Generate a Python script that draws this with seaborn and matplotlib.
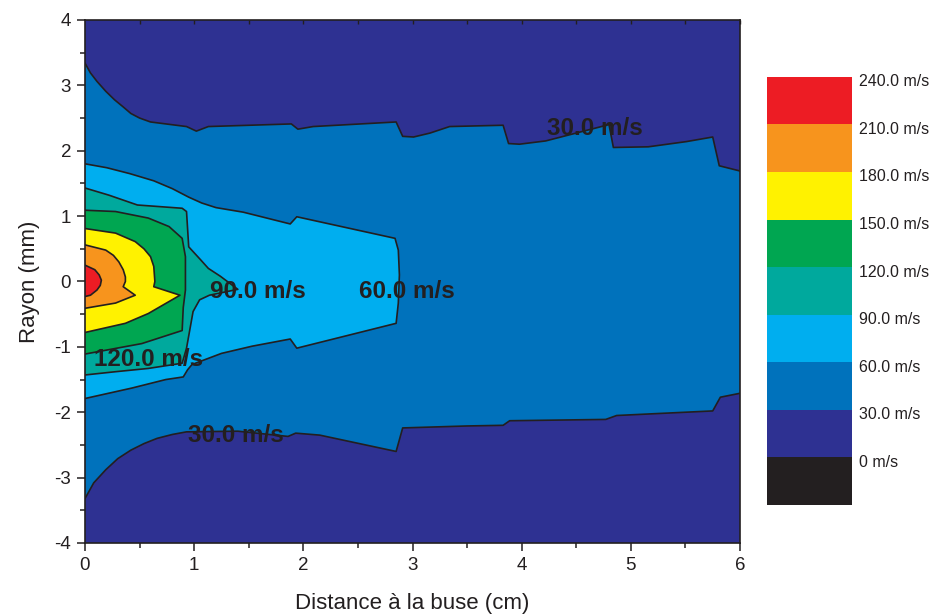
import numpy as np
import matplotlib
matplotlib.use("Agg")
import matplotlib.pyplot as plt
from matplotlib.colors import ListedColormap
import seaborn as sns

# ---------------- data ----------------
levels = [0, 30, 60, 90, 120, 150, 180, 210, 240]
level_labels = ["240.0 m/s", "210.0 m/s", "180.0 m/s", "150.0 m/s", "120.0 m/s",
                "90.0 m/s", "60.0 m/s", "30.0 m/s", "0 m/s"]
band_colors = ["#231f20", "#2e3192", "#0072bc", "#00aeef", "#00a99d",
               "#00a651", "#fff200", "#f7941d", "#ed1c24"]  # 0-30 ... 240+

# 30 m/s iso-line (upper and lower branches, x in cm, r in mm)
c30_up_x = [0, 0.05, 0.11, 0.19, 0.27, 0.35, 0.42, 0.50, 0.60, 0.93, 1.02, 1.13, 1.89, 1.95,
            2.09, 2.85, 2.91, 3.01, 3.16, 3.34, 3.83, 3.88, 3.98, 4.22, 4.80, 4.84, 5.16,
            5.51, 5.75, 5.81, 6.0]
c30_up_y = [3.34, 3.19, 3.06, 2.91, 2.78, 2.67, 2.57, 2.50, 2.44, 2.37, 2.30, 2.37, 2.41, 2.33,
            2.37, 2.44, 2.22, 2.21, 2.27, 2.37, 2.39, 2.11, 2.10, 2.15, 2.40, 2.05, 2.06,
            2.14, 2.21, 1.77, 1.69]
c30_lo_x = [0, 0.08, 0.19, 0.30, 0.42, 0.54, 0.66, 0.80, 0.93, 1.40, 1.86, 1.93, 2.15, 2.85,
            2.91, 3.50, 3.83, 3.89, 4.77, 4.87, 5.75, 5.82, 6.0]
c30_lo_y = [-3.32, -3.08, -2.88, -2.71, -2.58, -2.48, -2.40, -2.34, -2.30, -2.29, -2.37, -2.32,
            -2.35, -2.60, -2.24, -2.21, -2.20, -2.13, -2.11, -2.05, -1.98, -1.77, -1.71]

# closed iso-lines (from the top at x=0, round the tip, back to the bottom at x=0)
c60_x = [0, 0.20, 0.41, 0.63, 0.80, 0.95, 1.07, 1.20, 1.45, 1.88, 1.94, 2.84, 2.87, 2.88,
         2.87, 2.85, 1.94, 1.88, 1.53, 1.25, 0.98, 0.94, 0.90, 0.74, 0.43, 0]
c60_y = [1.80, 1.74, 1.65, 1.54, 1.42, 1.29, 1.20, 1.13, 1.06, 0.88, 0.99, 0.66, 0.48, 0.10,
         -0.33, -0.64, -1.02, -0.88, -0.99, -1.10, -1.27, -1.35, -1.46, -1.50, -1.63, -1.79]

c90_x = [0, 0.22, 0.48, 0.89, 0.93, 0.95, 1.06, 1.13, 1.24, 1.40, 1.14, 1.05, 0.99, 0.96,
         0.93, 0.89, 0.58, 0.28, 0]
c90_y = [1.43, 1.32, 1.17, 1.12, 1.07, 0.53, 0.33, 0.20, 0.08, -0.12, -0.21, -0.28, -0.46,
         -0.74, -1.02, -1.25, -1.33, -1.38, -1.43]

c120_x = [0, 0.28, 0.58, 0.77, 0.89, 0.92, 0.92, 0.90, 0.89, 0.52, 0]
c120_y = [1.09, 1.07, 0.97, 0.84, 0.66, 0.38, -0.13, -0.40, -0.75, -0.95, -1.11]

c150_x = [0, 0.28, 0.46, 0.54, 0.60, 0.63, 0.64, 0.63, 0.87, 0.58, 0.37, 0]
c150_y = [0.81, 0.74, 0.61, 0.50, 0.38, 0.23, 0.0, -0.08, -0.21, -0.49, -0.64, -0.78]

c180_x = [0, 0.19, 0.26, 0.31, 0.35, 0.37, 0.37, 0.35, 0.46, 0.28, 0]
c180_y = [0.56, 0.48, 0.40, 0.30, 0.18, 0.07, 0.0, -0.08, -0.21, -0.33, -0.41]

c210_x = [0, 0.09, 0.13, 0.15, 0.14, 0.11, 0.05, 0]
c210_y = [0.25, 0.18, 0.10, 0.02, -0.06, -0.13, -0.21, -0.23]

# in-plot labels
lab_text = ["30.0 m/s", "30.0 m/s", "60.0 m/s", "90.0 m/s", "120.0 m/s"]
lab_x = [4.67, 1.38, 2.95, 1.58, 0.58]
lab_y = [2.34, -2.36, -0.16, -0.16, -1.19]

x_ticks = [0, 1, 2, 3, 4, 5, 6]
y_ticks = [-4, -3, -2, -1, 0, 1, 2, 3, 4]

# ---------------- drawing ----------------
sns.set_theme(style="ticks")
plt.rcParams["font.family"] = ["Liberation Sans", "DejaVu Sans"]
plt.rcParams["axes.unicode_minus"] = False
ink = "#231f20"

fig = plt.figure(figsize=(9.32, 6.15), dpi=100)
ax = fig.add_axes([0.0912, 0.1171, 0.7028, 0.8504])
ax.set_xlim(0, 6)
ax.set_ylim(-4, 4)
ax.set_facecolor(band_colors[1])

# filled bands
poly30_x = c30_up_x + c30_lo_x[::-1]
poly30_y = c30_up_y + c30_lo_y[::-1]
closed = [(poly30_x, poly30_y, band_colors[2]),
          (c60_x, c60_y, band_colors[3]),
          (c90_x, c90_y, band_colors[4]),
          (c120_x, c120_y, band_colors[5]),
          (c150_x, c150_y, band_colors[6]),
          (c180_x, c180_y, band_colors[7]),
          (c210_x, c210_y, band_colors[8])]
for i, (px, py, col) in enumerate(closed):
    ax.fill(px, py, color=col, lw=0, zorder=1 + i * 0.01)

# iso-lines
lines = [(c30_up_x, c30_up_y), (c30_lo_x, c30_lo_y), (c60_x, c60_y), (c90_x, c90_y),
         (c120_x, c120_y), (c150_x, c150_y), (c180_x, c180_y), (c210_x, c210_y)]
for lx, ly in lines:
    sns.lineplot(x=lx, y=ly, sort=False, estimator=None, color=ink, lw=1.2, ax=ax, zorder=3)

for t, x, y in zip(lab_text, lab_x, lab_y):
    ax.text(x, y, t, ha="center", va="center", fontsize=17.5, fontweight="bold",
            color=ink, zorder=4)

ax.set_xticks(x_ticks)
ax.set_yticks(y_ticks)
ax.set_xticks(np.arange(0.5, 6, 1), minor=True)
ax.set_yticks(np.arange(-3.5, 4, 1), minor=True)
ax.tick_params(axis="both", which="major", direction="out", length=6, width=1.1,
               color=ink, labelsize=13.5, labelcolor=ink, pad=4)
ax.tick_params(axis="both", which="minor", direction="out", length=3.5, width=1.1, color=ink)
for sp in ax.spines.values():
    sp.set_color(ink)
    sp.set_linewidth(1.2)
    sp.set_zorder(5)
ax.set_xlabel("Distance à la buse (cm)", fontsize=16, color=ink, labelpad=14)
ax.set_ylabel("Rayon (mm)", fontsize=16, color=ink, labelpad=10)

# top axis: small inward ticks
secx = ax.secondary_xaxis("top")
secx.set_xticks(np.arange(0.5, 6.01, 0.5))
secx.tick_params(direction="in", length=3, width=1.0, color=ink, labeltop=False)
secx.spines["top"].set_visible(False)
ax.tick_params(axis="x", which="both", top=False)

# legend (colour key) drawn as a one-column heatmap
lax = fig.add_axes([0.823, 0.1789, 0.0912, 0.696])
key = np.arange(len(levels))[::-1].reshape(-1, 1)
sns.heatmap(key, cmap=ListedColormap(band_colors), vmin=-0.5, vmax=len(levels) - 0.5,
            cbar=False, ax=lax, xticklabels=False, yticklabels=False)
lax.yaxis.tick_right()
lax.set_yticks(np.arange(len(levels)) + 0.07)
lax.set_yticklabels(level_labels, fontsize=11.5, color=ink)
lax.tick_params(axis="y", length=0, pad=5, labelright=True, labelleft=False)
lax.tick_params(axis="x", length=0)
for sp in lax.spines.values():
    sp.set_visible(False)

fig.savefig("out.png", dpi=100)
